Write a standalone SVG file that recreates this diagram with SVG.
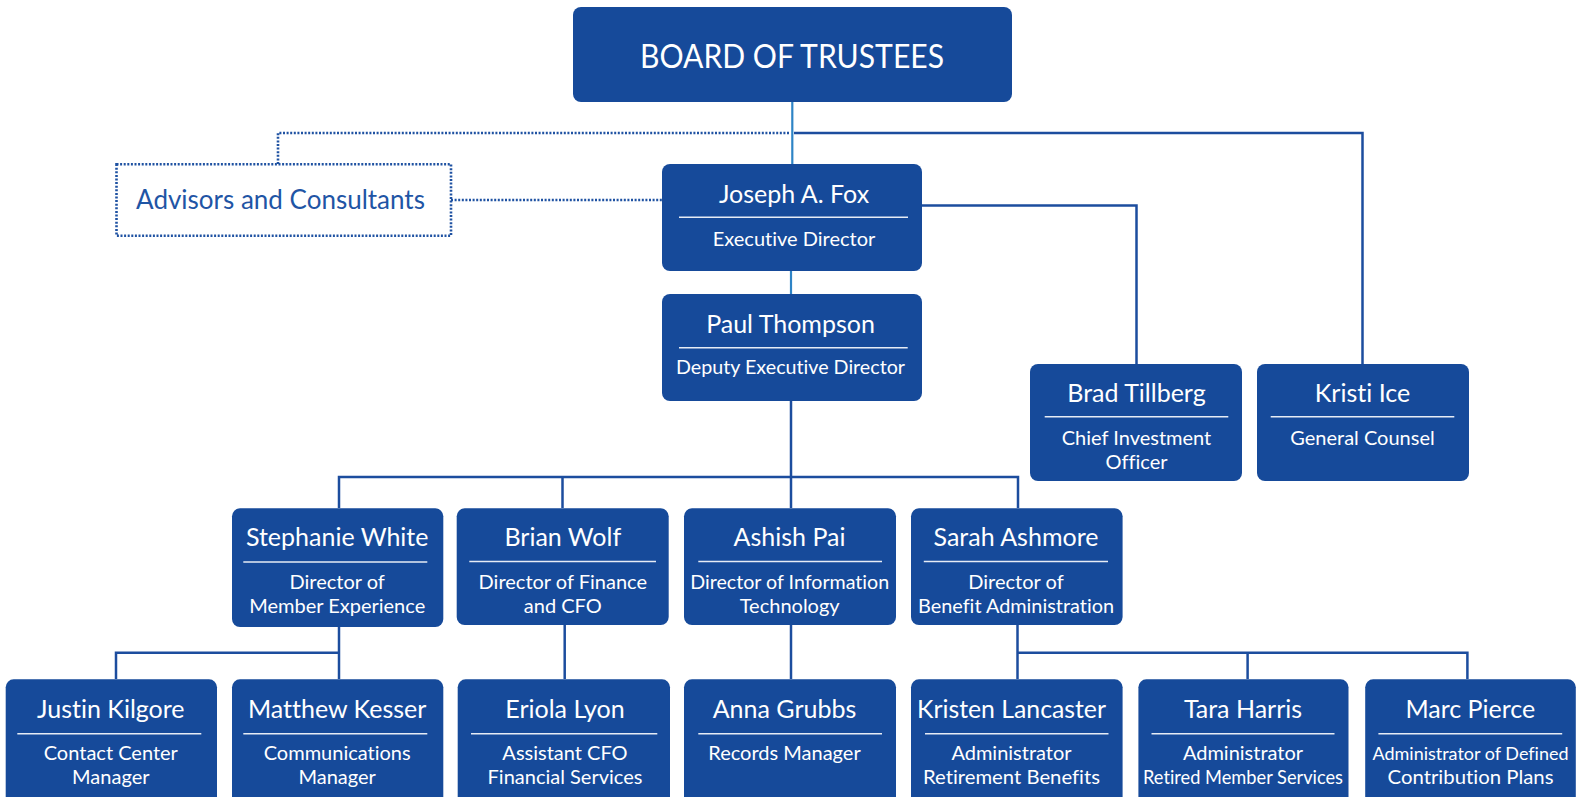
<svg xmlns="http://www.w3.org/2000/svg" width="1578" height="797" viewBox="0 0 1578 797">
  <style>
    text { font-variant-ligatures: none; font-feature-settings: "liga" 0, "clig" 0; }
    .box { fill: #164a9a; }
    .rule { stroke: #e6ecf5; stroke-width: 1.6; }
    .name { font-family: Lato, "Liberation Sans", sans-serif; font-size: 25px; fill: #ffffff; text-anchor: middle; }
    .role { font-family: Lato, "Liberation Sans", sans-serif; font-size: 20px; fill: #ffffff; text-anchor: middle; }
    .title { font-family: Lato, "Liberation Sans", sans-serif; font-size: 32px; fill: #ffffff; text-anchor: middle; }
    .adv { font-family: Lato, "Liberation Sans", sans-serif; font-size: 26px; fill: #1f55a5; text-anchor: middle; }
    .link { fill: none; stroke: #1c4d9e; stroke-width: 2.5; }
    .link-light { fill: none; stroke: #2e84c6; stroke-width: 2.2; }
    .dots { fill: none; stroke: #1f52a2; stroke-width: 2.6; stroke-dasharray: 2 1.6; }
  </style>

  <!-- connectors -->
  <g id="connectors">
    <path class="link-light" d="M792.3 102 V164"/>
    <path class="link-light" d="M791 271 V294"/>
    <path class="dots" d="M789 133 H278 V164"/>
    <path class="dots" d="M451 200 H662"/>
    <path class="link" d="M794 133 H1362.5 V364"/>
    <path class="link" d="M922 205.5 H1136.5 V364"/>
    <path class="link" d="M791 401 V508"/>
    <path class="link" d="M339 508 V477 H1018 V508"/>
    <path class="link" d="M562.5 477 V508"/>
    <path class="link" d="M339 627 V679"/>
    <path class="link" d="M116 679 V652.7 H339"/>
    <path class="link" d="M564.7 625 V679"/>
    <path class="link" d="M791 625 V679"/>
    <path class="link" d="M1017.5 625 V679"/>
    <path class="link" d="M1017.5 652.7 H1467.4 V679"/>
    <path class="link" d="M1247.6 652.7 V679"/>
  </g>

  <!-- top level -->
  <g id="board">
    <rect class="box" x="573" y="7" width="439" height="95" rx="8"/>
    <text class="title" x="792" y="68" textLength="304" lengthAdjust="spacingAndGlyphs">BOARD OF TRUSTEES</text>
  </g>

  <g id="advisors">
    <rect class="dots" x="116.5" y="164.3" width="334.5" height="71.4"/>
    <text class="adv" x="280.5" y="209">Advisors and Consultants</text>
  </g>

  <g id="fox">
    <rect class="box" x="662" y="164" width="260" height="107" rx="8"/>
    <text class="name" x="794" y="202.5">Joseph A. Fox</text>
    <line class="rule" x1="679" y1="217.3" x2="908" y2="217.3"/>
    <text class="role" x="794" y="245.5">Executive Director</text>
  </g>

  <g id="thompson">
    <rect class="box" x="662" y="294" width="260" height="107" rx="8"/>
    <text class="name" x="790.5" y="333">Paul Thompson</text>
    <line class="rule" x1="679" y1="347.7" x2="907.7" y2="347.7"/>
    <text class="role" x="790.5" y="374" textLength="229" lengthAdjust="spacingAndGlyphs">Deputy Executive Director</text>
  </g>

  <g id="tillberg">
    <rect class="box" x="1030" y="364" width="212" height="117" rx="8"/>
    <text class="name" x="1136.5" y="401.5">Brad Tillberg</text>
    <line class="rule" x1="1044.7" y1="416.7" x2="1228.3" y2="416.7"/>
    <text class="role" x="1136.5" y="445">Chief Investment</text>
    <text class="role" x="1136.5" y="469">Officer</text>
  </g>

  <g id="ice">
    <rect class="box" x="1257" y="364" width="212" height="117" rx="8"/>
    <text class="name" x="1362.5" y="401.5">Kristi Ice</text>
    <line class="rule" x1="1270.7" y1="416.7" x2="1454.3" y2="416.7"/>
    <text class="role" x="1362.5" y="445">General Counsel</text>
  </g>

  <!-- directors -->
  <g id="white">
    <rect class="box" x="232" y="508.3" width="211.3" height="118.7" rx="8"/>
    <text class="name" x="337.2" y="546">Stephanie White</text>
    <line class="rule" x1="243.3" y1="562" x2="427.3" y2="562"/>
    <text class="role" x="337.2" y="589">Director of</text>
    <text class="role" x="337.2" y="613.3">Member Experience</text>
  </g>

  <g id="wolf">
    <rect class="box" x="456.7" y="508.3" width="212" height="116.7" rx="8"/>
    <text class="name" x="562.8" y="546">Brian Wolf</text>
    <line class="rule" x1="469.3" y1="561.5" x2="656" y2="561.5"/>
    <text class="role" x="562.8" y="589">Director of Finance</text>
    <text class="role" x="562.8" y="613.3">and CFO</text>
  </g>

  <g id="pai">
    <rect class="box" x="684" y="508.3" width="212" height="116.7" rx="8"/>
    <text class="name" x="789.5" y="546">Ashish Pai</text>
    <line class="rule" x1="698.3" y1="561.5" x2="882" y2="561.5"/>
    <text class="role" x="789.7" y="589" textLength="199" lengthAdjust="spacingAndGlyphs">Director of Information</text>
    <text class="role" x="789.7" y="613.3">Technology</text>
  </g>

  <g id="ashmore">
    <rect class="box" x="911" y="508.3" width="211.6" height="116.7" rx="8"/>
    <text class="name" x="1016" y="546">Sarah Ashmore</text>
    <line class="rule" x1="923.8" y1="561.5" x2="1108" y2="561.5"/>
    <text class="role" x="1016" y="589">Director of</text>
    <text class="role" x="1016" y="613.3" textLength="196" lengthAdjust="spacingAndGlyphs">Benefit Administration</text>
  </g>

  <!-- managers -->
  <g id="kilgore">
    <rect class="box" x="5.7" y="679.3" width="211.3" height="130" rx="8"/>
    <text class="name" x="110.8" y="717.7">Justin Kilgore</text>
    <line class="rule" x1="17.3" y1="733.7" x2="201.3" y2="733.7"/>
    <text class="role" x="110.8" y="760">Contact Center</text>
    <text class="role" x="110.8" y="784.3">Manager</text>
  </g>

  <g id="kesser">
    <rect class="box" x="232" y="679.3" width="211.3" height="130" rx="8"/>
    <text class="name" x="337.2" y="717.7">Matthew Kesser</text>
    <line class="rule" x1="243.3" y1="733.7" x2="427.3" y2="733.7"/>
    <text class="role" x="337.2" y="760">Communications</text>
    <text class="role" x="337.2" y="784.3">Manager</text>
  </g>

  <g id="lyon">
    <rect class="box" x="457.7" y="679.3" width="212.3" height="130" rx="8"/>
    <text class="name" x="565" y="717.7">Eriola Lyon</text>
    <line class="rule" x1="471" y1="733.7" x2="657.3" y2="733.7"/>
    <text class="role" x="565" y="760">Assistant CFO</text>
    <text class="role" x="565" y="784.3">Financial Services</text>
  </g>

  <g id="grubbs">
    <rect class="box" x="684" y="679.3" width="212" height="130" rx="8"/>
    <text class="name" x="784.5" y="717.7">Anna Grubbs</text>
    <line class="rule" x1="698.3" y1="733.7" x2="882" y2="733.7"/>
    <text class="role" x="784.5" y="760">Records Manager</text>
  </g>

  <g id="lancaster">
    <rect class="box" x="911" y="679.3" width="211.6" height="130" rx="8"/>
    <text class="name" x="1011.5" y="717.7" textLength="189" lengthAdjust="spacingAndGlyphs">Kristen Lancaster</text>
    <line class="rule" x1="925" y1="733.7" x2="1108.5" y2="733.7"/>
    <text class="role" x="1011.5" y="760">Administrator</text>
    <text class="role" x="1011.5" y="784.3" textLength="177" lengthAdjust="spacingAndGlyphs">Retirement Benefits</text>
  </g>

  <g id="harris">
    <rect class="box" x="1138.4" y="679.3" width="210.1" height="130" rx="8"/>
    <text class="name" x="1243" y="717.7">Tara Harris</text>
    <line class="rule" x1="1151.5" y1="733.7" x2="1334.5" y2="733.7"/>
    <text class="role" x="1243" y="760">Administrator</text>
    <text class="role" x="1243" y="784.3" textLength="200" lengthAdjust="spacingAndGlyphs">Retired Member Services</text>
  </g>

  <g id="pierce">
    <rect class="box" x="1365.2" y="679.3" width="210.6" height="130" rx="8"/>
    <text class="name" x="1470.3" y="717.7">Marc Pierce</text>
    <line class="rule" x1="1378.4" y1="733.7" x2="1562.2" y2="733.7"/>
    <text class="role" x="1470.5" y="760" style="font-size:18px" textLength="196" lengthAdjust="spacingAndGlyphs">Administrator of Defined</text>
    <text class="role" x="1470.5" y="784.3" textLength="166" lengthAdjust="spacingAndGlyphs">Contribution Plans</text>
  </g>
</svg>
